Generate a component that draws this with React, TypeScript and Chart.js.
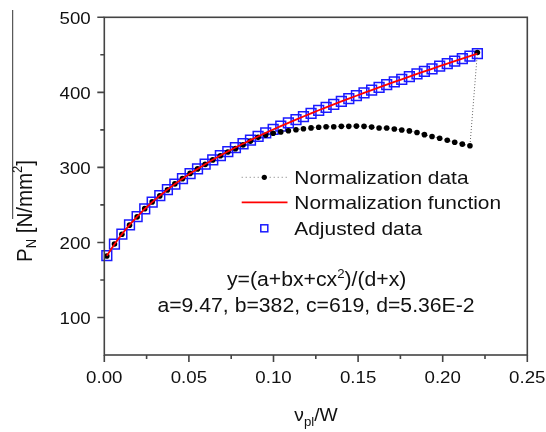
import React, { useEffect, useRef } from "react";
import { Chart, registerables } from "chart.js";
Chart.register(...registerables);

// ---- data ----
const xValues = [
  0.0015, 0.006, 0.0104, 0.0149, 0.0194, 0.0239, 0.0283, 0.0328, 0.0373, 0.0417,
  0.0462, 0.0507, 0.0551, 0.0596, 0.0641, 0.0686, 0.073, 0.0775, 0.082, 0.0864,
  0.0909, 0.0954, 0.0998, 0.1043, 0.1088, 0.1133, 0.1177, 0.1222, 0.1267, 0.1311,
  0.1356, 0.1401, 0.1445, 0.149, 0.1535, 0.158, 0.1624, 0.1669, 0.1714, 0.1758,
  0.1803, 0.1848, 0.1892, 0.1937, 0.1982, 0.2027, 0.2071, 0.2116, 0.2161, 0.2205,
];
const adjustedY = [
  182.3, 197.7, 211.1, 223.3, 234.4, 244.6, 253.7, 262.3, 270.4, 277.8,
  285.0, 291.7, 298.0, 304.2, 310.1, 315.8, 321.1, 326.4, 331.5, 336.4,
  341.2, 346.0, 350.5, 354.9, 359.4, 363.7, 367.8, 372.0, 376.1, 380.0,
  384.0, 387.9, 391.7, 395.5, 399.3, 403.0, 406.6, 410.3, 413.9, 417.4,
  421.0, 424.5, 427.9, 431.4, 434.9, 438.3, 441.6, 445.0, 448.4, 451.7,
];
const functionY = [
  182.3, 197.7, 211.1, 223.3, 234.4, 244.6, 253.7, 262.3, 270.4, 277.8,
  285.0, 291.7, 298.0, 304.2, 310.1, 315.8, 321.1, 326.4, 331.5, 336.4,
  341.2, 346.0, 350.5, 354.9, 359.4, 363.7, 367.8, 372.0, 376.1, 380.0,
  384.0, 387.9, 391.7, 395.5, 399.3, 403.0, 406.6, 410.3, 413.9, 417.4,
  421.0, 424.5, 427.9, 431.4, 434.9, 438.3, 441.6, 445.0, 448.4, 451.7,
];
const normY = [
  182, 198, 211, 223, 234, 245, 254, 262, 270, 278,
  285, 292, 298, 304, 310, 315.5, 320.5, 325, 330, 335,
  340, 343, 345.5, 347.3, 348.8, 350.1, 351.5, 352.6, 353.4, 354.1,
  354.2, 354.7, 354.7, 355, 354.7, 353.7, 352.5, 352.4, 351.2, 349.8,
  348.6, 346.5, 343.6, 341.2, 338.8, 336.2, 333.5, 331, 328.8, 453,
];
const xTicks = [0, 0.05, 0.1, 0.15, 0.2, 0.25];
const xTickLabels = ["0.00", "0.05", "0.10", "0.15", "0.20", "0.25"];
const xMinorTicks = [0.025, 0.075, 0.125, 0.175, 0.225];
const yTicks = [100, 200, 300, 400, 500];
const yTickLabels = ["100", "200", "300", "400", "500"];
const yMinorTicks = [150, 250, 350, 450];
const legendLabels = ["Normalization data", "Normalization function", "Adjusted data"];
const formulaLine2 = "a=9.47, b=382, c=619, d=5.36E-2";

const FONT = '"Liberation Sans", Arial, Helvetica, sans-serif';
const SX = 1.1;
const INK = "#111";
const AXIS = "#444";

type Run = { t: string; size: number; dy?: number };

function runsWidth(ctx: CanvasRenderingContext2D, runs: Run[]) {
  let w = 0;
  for (const r of runs) {
    ctx.font = `${r.size}px ${FONT}`;
    w += ctx.measureText(r.t).width;
  }
  return w;
}

function drawRuns(ctx: CanvasRenderingContext2D, runs: Run[], x: number, y: number, align: string, sx = SX) {
  const w = runsWidth(ctx, runs) * sx;
  const x0 = align === "center" ? x - w / 2 : align === "right" ? x - w : x;
  ctx.save();
  ctx.translate(x0, y);
  ctx.scale(sx, 1);
  ctx.fillStyle = INK;
  ctx.textAlign = "left";
  ctx.textBaseline = "alphabetic";
  let cx = 0;
  for (const r of runs) {
    ctx.font = `${r.size}px ${FONT}`;
    ctx.fillText(r.t, cx, r.dy || 0);
    cx += ctx.measureText(r.t).width;
  }
  ctx.restore();
}

const decor = {
  id: "decor",
  afterDraw(chart: any) {
    const ctx: CanvasRenderingContext2D = chart.ctx;
    const { left, right, top, bottom } = chart.chartArea;
    const xs = chart.scales.x;
    const ys = chart.scales.y;
    ctx.save();
    ctx.strokeStyle = AXIS;
    ctx.lineWidth = 1.6;
    ctx.strokeRect(left, top, right - left, bottom - top);
    ctx.beginPath();
    for (const v of xTicks) {
      const p = xs.getPixelForValue(v);
      ctx.moveTo(p, bottom);
      ctx.lineTo(p, bottom + 7);
    }
    for (const v of xMinorTicks) {
      const p = xs.getPixelForValue(v);
      ctx.moveTo(p, bottom);
      ctx.lineTo(p, bottom + 4);
    }
    for (const v of yTicks) {
      const p = ys.getPixelForValue(v);
      ctx.moveTo(left, p);
      ctx.lineTo(left - 7, p);
    }
    for (const v of yMinorTicks) {
      const p = ys.getPixelForValue(v);
      ctx.moveTo(left, p);
      ctx.lineTo(left - 4, p);
    }
    ctx.stroke();
    xTicks.forEach((v, i) => {
      drawRuns(ctx, [{ t: xTickLabels[i], size: 17 }], xs.getPixelForValue(v), 383, "center");
    });
    yTicks.forEach((v, i) => {
      drawRuns(ctx, [{ t: yTickLabels[i], size: 17 }], 90.7, ys.getPixelForValue(v) + 6.2, "right");
    });
    drawRuns(
      ctx,
      [
        { t: "ν", size: 17.5 },
        { t: "pl", size: 12, dy: 5 },
        { t: "/W", size: 17.5 },
      ],
      316,
      421,
      "center"
    );
    ctx.save();
    ctx.translate(31.5, 262);
    ctx.rotate(-Math.PI / 2);
    ctx.scale(1, SX);
    drawRuns(
      ctx,
      [
        { t: "P", size: 20.5 },
        { t: "N", size: 13, dy: 4 },
        { t: " [N/mm", size: 20.5 },
        { t: "2", size: 13, dy: -9 },
        { t: "]", size: 20.5 },
      ],
      0,
      0,
      "left",
      1
    );
    ctx.restore();
    ctx.strokeStyle = "#333";
    ctx.lineWidth = 1;
    ctx.beginPath();
    ctx.moveTo(12.7, 10);
    ctx.lineTo(12.7, 219);
    ctx.stroke();

    const symL = 241.7, symR = 287.5, symC = 264.3, textX = 294.3;
    const rows = [177.3, 202.3, 228.3];
    const bases = [184, 209, 235];
    ctx.strokeStyle = "#777";
    ctx.lineWidth = 1;
    ctx.setLineDash([1, 3]);
    ctx.beginPath();
    ctx.moveTo(symL, rows[0]);
    ctx.lineTo(symR, rows[0]);
    ctx.stroke();
    ctx.setLineDash([]);
    ctx.fillStyle = "#000";
    ctx.beginPath();
    ctx.arc(symC, rows[0], 2.6, 0, Math.PI * 2);
    ctx.fill();
    ctx.strokeStyle = "#ff0000";
    ctx.lineWidth = 1.8;
    ctx.beginPath();
    ctx.moveTo(symL, rows[1]);
    ctx.lineTo(symR, rows[1]);
    ctx.stroke();
    ctx.strokeStyle = "#1a1aff";
    ctx.lineWidth = 1.5;
    ctx.strokeRect(symC - 3.5, rows[2] - 3.5, 7, 7);
    legendLabels.forEach((l, i) => drawRuns(ctx, [{ t: l, size: 19 }], textX, bases[i], "left"));

    drawRuns(
      ctx,
      [
        { t: "y=(a+bx+cx", size: 19.3 },
        { t: "2", size: 12, dy: -8 },
        { t: ")/(d+x)", size: 19.3 },
      ],
      316.7,
      286,
      "center"
    );
    drawRuns(ctx, [{ t: formulaLine2, size: 19.3 }], 316, 312, "center");
    ctx.restore();
  },
};

export default function App() {
  const ref = useRef<HTMLCanvasElement>(null);
  useEffect(() => {
    if (!ref.current) return;
    const chart = new Chart(ref.current, {
      type: "scatter",
      data: {
        datasets: [
          {
            label: legendLabels[1],
            data: xValues.map((x, i) => ({ x, y: functionY[i] })),
            showLine: true,
            borderColor: "#ff0000",
            borderWidth: 1.8,
            pointRadius: 0,
            clip: false,
          } as any,
          {
            label: legendLabels[0],
            data: xValues.map((x, i) => ({ x, y: normY[i] })),
            showLine: true,
            borderColor: "#666",
            borderDash: [1, 2],
            borderWidth: 1,
            pointRadius: 2.8,
            pointBackgroundColor: "#000",
            pointBorderColor: "#000",
            pointBorderWidth: 0,
            clip: false,
          } as any,
          {
            label: legendLabels[2],
            data: xValues.map((x, i) => ({ x, y: adjustedY[i] })),
            showLine: false,
            pointStyle: "rect",
            pointRadius: 6.9,
            borderColor: "#1a1aff",
            pointBorderColor: "#1a1aff",
            pointBorderWidth: 1.5,
            backgroundColor: "transparent",
            pointBackgroundColor: "transparent",
            clip: false,
          } as any,
        ],
      },
      options: {
        animation: false,
        responsive: false,
        devicePixelRatio: 1,
        events: [],
        layout: { padding: { top: 17.3, right: 18.7, left: 0, bottom: 0 } },
        plugins: { legend: { display: false }, tooltip: { enabled: false } },
        scales: {
          x: {
            type: "linear",
            min: 0,
            max: 0.25,
            ticks: { display: false },
            grid: { display: false },
            border: { display: false },
            afterFit: (s: any) => {
              s.height = 77;
            },
          },
          y: {
            type: "linear",
            min: 50,
            max: 500,
            ticks: { display: false },
            grid: { display: false },
            border: { display: false },
            afterFit: (s: any) => {
              s.width = 104.3;
            },
          },
        },
      } as any,
      plugins: [decor],
    });
    return () => chart.destroy();
  }, []);
  return (
    <div style={{ position: "fixed", left: 0, top: 0, width: 546, height: 432, background: "#fff" }}>
      <canvas ref={ref} width={546} height={432} style={{ width: 546, height: 432, display: "block" }} />
    </div>
  );
}
